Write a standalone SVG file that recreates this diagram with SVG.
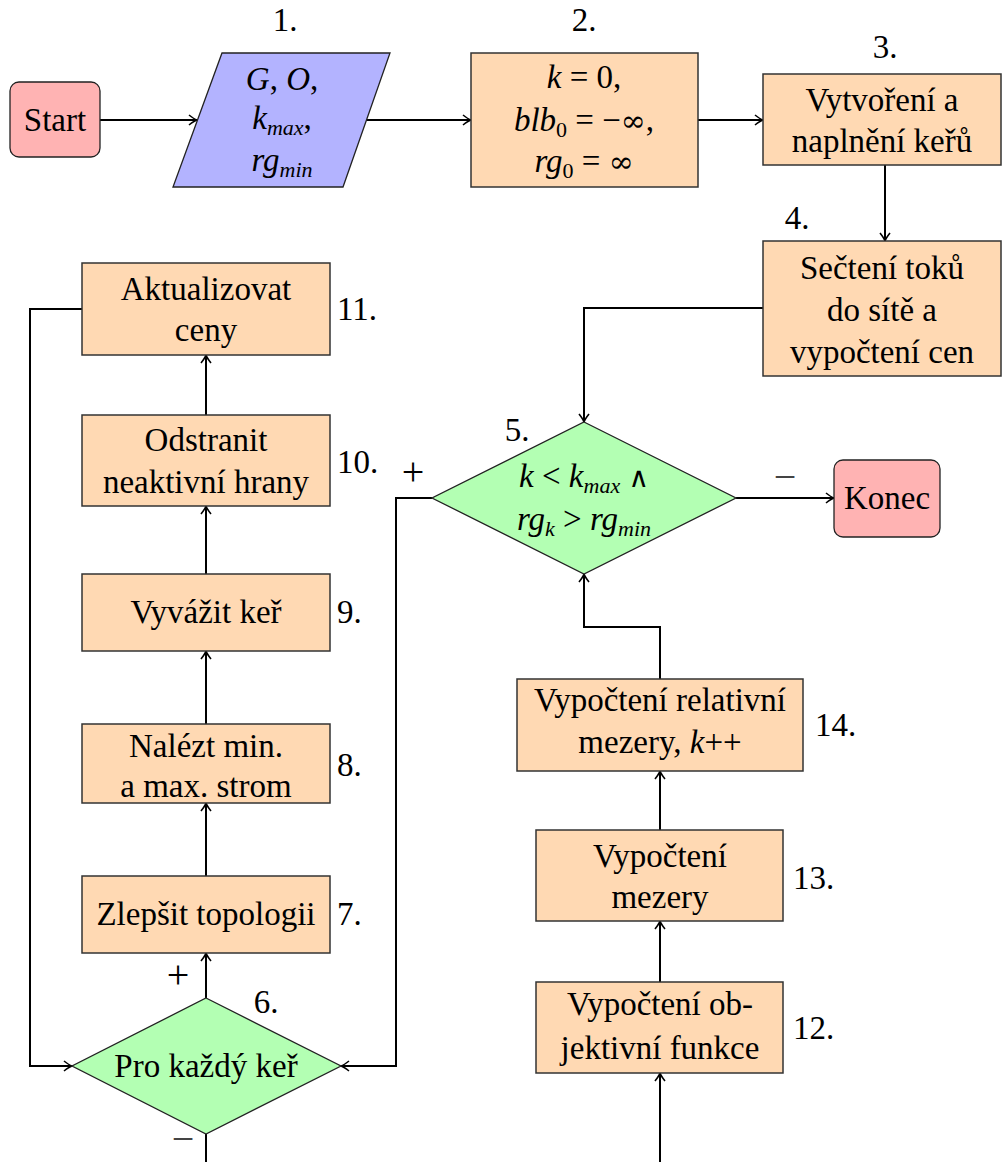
<svg xmlns="http://www.w3.org/2000/svg" width="1002" height="1162" viewBox="0 0 1002 1162">
<defs>
<style>
.box{fill:#ffd9b3;stroke:#333;stroke-width:1.5}
.dec{fill:#b3ffb3;stroke:#222;stroke-width:1.3}
.term{fill:#ffb3b3;stroke:#222;stroke-width:1.3}
.io{fill:#b3b3ff;stroke:#222;stroke-width:1.3}
.c{fill:none;stroke:#000;stroke-width:2}
</style>
<marker id="ar" viewBox="-10 -6 12 12" refX="0" refY="0" markerWidth="12" markerHeight="12" markerUnits="userSpaceOnUse" orient="auto">
<path d="M-8,-5 Q-3,-1 0,0 Q-3,1 -8,5" fill="none" stroke="#000" stroke-width="1.6"/>
</marker>
</defs>
<rect width="1002" height="1162" fill="#fff"/>
<g id="connectors">
<path class="c" d="M100,120 H197" marker-end="url(#ar)"/>
<path class="c" d="M366,120 H471" marker-end="url(#ar)"/>
<path class="c" d="M698,120 H763" marker-end="url(#ar)"/>
<path class="c" d="M885,165 V241" marker-end="url(#ar)"/>
<path class="c" d="M763,308 H584 V422" marker-end="url(#ar)"/>
<path class="c" d="M736,498 H834" marker-end="url(#ar)"/>
<path class="c" d="M432,498 H396 V1066 H341" marker-end="url(#ar)"/>
<path class="c" d="M206,998 V953" marker-end="url(#ar)"/>
<path class="c" d="M206,876 V803" marker-end="url(#ar)"/>
<path class="c" d="M206,724 V651" marker-end="url(#ar)"/>
<path class="c" d="M206,574 V506" marker-end="url(#ar)"/>
<path class="c" d="M206,415 V355" marker-end="url(#ar)"/>
<path class="c" d="M82,309 H30 V1066 H72" marker-end="url(#ar)"/>
<path class="c" d="M206,1134 V1162"/>
<path class="c" d="M660,1162 V1073" marker-end="url(#ar)"/>
<path class="c" d="M660,982 V921" marker-end="url(#ar)"/>
<path class="c" d="M660,830 V771" marker-end="url(#ar)"/>
<path class="c" d="M660,679 V627 H584 V574" marker-end="url(#ar)"/>
</g>
<g id="edge-labels" font-family="Liberation Serif" font-size="40" text-anchor="middle">
<text x="413" y="485">+</text>
<text x="785" y="490" fill="#444">−</text>
<text x="178" y="988">+</text>
<text x="183" y="1152" fill="#444">−</text>
</g>
<g font-family="Liberation Serif" font-size="33" text-anchor="middle">
<g id="start">
<rect class="term" x="10" y="82" width="90" height="75" rx="9"/>
<text x="55" y="131">Start</text>
</g>
<g id="n1">
<polygon class="io" points="222,53 390,53 343,187 173,187"/>
<text x="285" y="31">1.</text>
<text x="282" y="90"><tspan font-style="italic">G</tspan>, <tspan font-style="italic">O</tspan>,</text>
<text x="282" y="129"><tspan font-style="italic">k</tspan><tspan font-style="italic" font-size="22" dy="6">max</tspan><tspan dy="-6">,</tspan></text>
<text x="282" y="171"><tspan font-style="italic">rg</tspan><tspan font-style="italic" font-size="22" dy="6">min</tspan></text>
</g>
<g id="n2">
<rect class="box" x="471" y="53" width="227" height="134"/>
<text x="584" y="31">2.</text>
<text x="584" y="88"><tspan font-style="italic">k</tspan> = 0,</text>
<text x="584" y="131"><tspan font-style="italic">blb</tspan><tspan font-size="22" dy="6">0</tspan><tspan dy="-6"> = −</tspan><tspan font-family="DejaVu Serif" font-size="30">∞</tspan>,</text>
<text x="584" y="172"><tspan font-style="italic">rg</tspan><tspan font-size="22" dy="6">0</tspan><tspan dy="-6"> = </tspan><tspan font-family="DejaVu Serif" font-size="30">∞</tspan></text>
</g>
<g id="n3">
<rect class="box" x="763" y="74" width="238" height="91"/>
<text x="885" y="58">3.</text>
<text x="882" y="111">Vytvoření a</text>
<text x="882" y="152">naplnění keřů</text>
</g>
<g id="n4">
<rect class="box" x="763" y="241" width="238" height="135"/>
<text x="797" y="229">4.</text>
<text x="882" y="279">Sečtení toků</text>
<text x="882" y="321">do sítě a</text>
<text x="882" y="363">vypočtení cen</text>
</g>
<g id="n5">
<polygon class="dec" points="584,422 736,498 584,574 432,498"/>
<text x="517" y="441">5.</text>
<text x="584" y="487"><tspan font-style="italic">k</tspan> &lt; <tspan font-style="italic">k</tspan><tspan font-style="italic" font-size="22" dy="6">max</tspan><tspan dy="-6"> </tspan><tspan font-family="DejaVu Serif" font-size="28">∧</tspan></text>
<text x="584" y="530"><tspan font-style="italic">rg</tspan><tspan font-style="italic" font-size="22" dy="6">k</tspan><tspan dy="-6"> &gt; </tspan><tspan font-style="italic">rg</tspan><tspan font-style="italic" font-size="22" dy="6">min</tspan></text>
</g>
<g id="konec">
<rect class="term" x="834" y="460" width="106" height="77" rx="9"/>
<text x="887" y="509">Konec</text>
</g>
<g id="n6">
<polygon class="dec" points="206,998 341,1066 206,1134 72,1066"/>
<text x="266" y="1013">6.</text>
<text x="206" y="1077">Pro každý keř</text>
</g>
<g id="n7">
<rect class="box" x="82" y="876" width="248" height="77"/>
<text x="337" y="925" text-anchor="start">7.</text>
<text x="206" y="925">Zlepšit topologii</text>
</g>
<g id="n8">
<rect class="box" x="82" y="724" width="248" height="79"/>
<text x="337" y="776" text-anchor="start">8.</text>
<text x="206" y="757">Nalézt min.</text>
<text x="206" y="797">a max. strom</text>
</g>
<g id="n9">
<rect class="box" x="82" y="574" width="248" height="77"/>
<text x="337" y="623" text-anchor="start">9.</text>
<text x="206" y="623">Vyvážit keř</text>
</g>
<g id="n10">
<rect class="box" x="82" y="415" width="248" height="91"/>
<text x="337" y="473" text-anchor="start">10.</text>
<text x="206" y="451">Odstranit</text>
<text x="206" y="493">neaktivní hrany</text>
</g>
<g id="n11">
<rect class="box" x="82" y="263" width="248" height="92"/>
<text x="337" y="320" text-anchor="start">11.</text>
<text x="206" y="300">Aktualizovat</text>
<text x="206" y="341">ceny</text>
</g>
<g id="n12">
<rect class="box" x="536" y="982" width="247" height="91"/>
<text x="793" y="1039" text-anchor="start">12.</text>
<text x="660" y="1015">Vypočtení ob-</text>
<text x="660" y="1059">jektivní funkce</text>
</g>
<g id="n13">
<rect class="box" x="536" y="830" width="247" height="91"/>
<text x="793" y="889" text-anchor="start">13.</text>
<text x="660" y="867">Vypočtení</text>
<text x="660" y="908">mezery</text>
</g>
<g id="n14">
<rect class="box" x="517" y="679" width="286" height="92"/>
<text x="815" y="736" text-anchor="start">14.</text>
<text x="660" y="711">Vypočtení relativní</text>
<text x="660" y="753">mezery, <tspan font-style="italic">k</tspan>++</text>
</g>
</g>
</svg>
